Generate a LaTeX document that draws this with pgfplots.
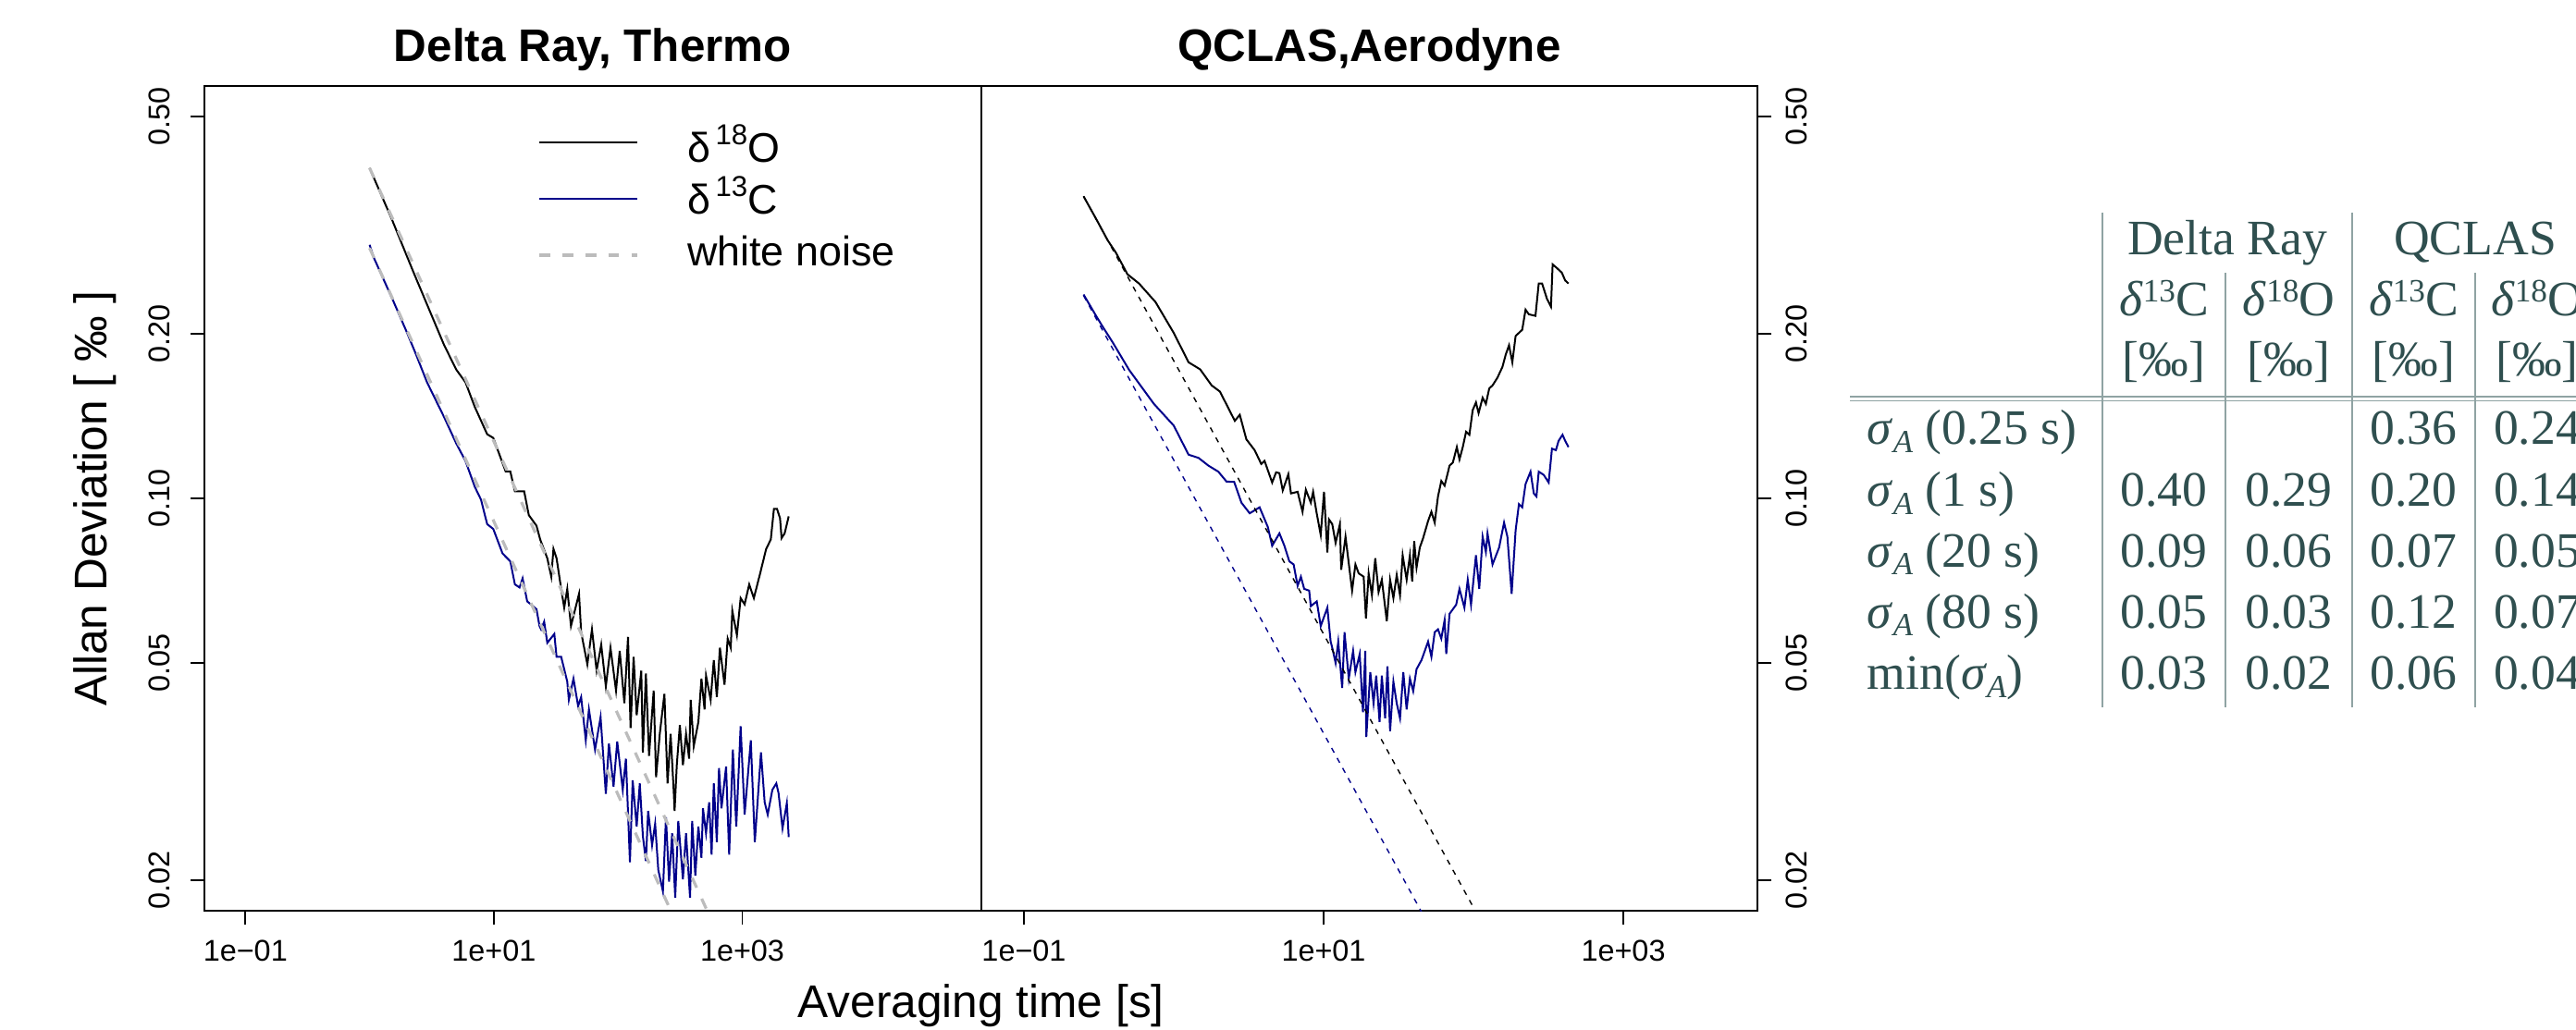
\documentclass[border=0pt]{standalone}
\usepackage{fontspec}
\setmainfont{Liberation Sans}
\newfontfamily\tabfont{Liberation Serif}
\usepackage{pgfplots}
\pgfplotsset{compat=1.18}
\definecolor{rblue}{RGB}{0,0,139}
\definecolor{rgray}{RGB}{188,188,188}
\definecolor{tabtext}{RGB}{47,79,79}
\definecolor{tabline}{RGB}{143,163,163}
\newcommand{\sA}{\textit{σ}\raisebox{-2.1pt}{\fontsize{8.7}{8.7}\selectfont\textit{A}}}
\newcommand{\dC}{\textit{δ}\raisebox{3.9pt}{\fontsize{8.8}{8.8}\selectfont 13}C}
\newcommand{\dO}{\textit{δ}\raisebox{3.9pt}{\fontsize{8.8}{8.8}\selectfont 18}O}
\begin{document}
\begin{tikzpicture}
\path[use as bounding box] (0,0) rectangle (696.25pt,278.5pt);
% ---------------- left panel ----------------
\begin{axis}[at={(55.325pt,32.175pt)}, anchor=south west,
  scale only axis, width=209.84pt, height=223.15pt,
  xmode=log, ymode=log,
  xmin=0.04704, xmax=83560, ymin=0.017585, ymax=0.5687,
  axis line style={black, line width=0.45pt},
  every tick/.style={black, line width=0.45pt},
  tick align=outside, major tick length=3.8pt, minor tick length=0pt,
  xtick={0.1,10,1000},
  xticklabels={\mbox{1e−01},\mbox{1e+01},\mbox{1e+03}},
  ytick={0.02,0.05,0.1,0.2,0.5},
  yticklabels={\mbox{0.02},\mbox{0.05},\mbox{0.10},\mbox{0.20},\mbox{0.50}},
  xtick pos=left, ytick pos=left,
  tick label style={font=\fontsize{8.1}{9}\selectfont},
  xticklabel style={anchor=north, inner sep=0pt, inner ysep=3.9pt},
  yticklabel style={rotate=90, anchor=south, inner sep=0pt, inner ysep=5.3pt},
  title={Delta Ray, Thermo},
  every axis title shift=0pt,
  title style={at={(0.5,1.02935)}, anchor=base, font=\bfseries\fontsize{12.35}{14}\selectfont, inner sep=0pt},
  xlabel={Averaging time [s]},
  xlabel style={at={(1,-0.1285)}, anchor=base, font=\fontsize{12.4}{14}\selectfont, inner sep=0pt},
  ylabel={Allan Deviation [ ‰ ]},
  ylabel style={at={(-0.12546,0.5)}, anchor=base, font=\fontsize{12.4}{14}\selectfont, inner sep=0pt},
  legend cell align=left,
  legend style={at={(0.42938,0.9481)}, anchor=north west, draw=none, fill=none,
    inner sep=0pt, outer sep=0pt, row sep=5pt, column sep=13.1pt,
    font=\fontsize{11.2}{13}\selectfont,
    nodes={inner sep=0pt, text height=9pt, text depth=0pt}},
]
\addplot[black, line width=0.5pt,
  legend image code/.code={\draw[black, line width=0.5pt] (0pt,0.75pt) -- (26.5pt,0.75pt);}]
coordinates {(1.0,0.402) (1.502,0.325) (2.243,0.260) (3.969,0.191) (4.985,0.172) (5.918,0.163) (7.024,0.147) (8.84,0.131) (9.90,0.129) (12.45,0.112) (13.57,0.112) (14.78,0.103) (17.55,0.103) (19.12,0.0932) (22.05,0.0891) (23.61,0.0841) (26.94,0.0777) (29.0,0.0719) (30.2,0.0808) (32.0,0.0777) (34.84,0.0683) (36.87,0.0631) (39.01,0.0683) (41.78,0.0584) (48.5,0.0669) (50.45,0.0569) (56.6,0.0497) (61.66,0.0576) (67.2,0.0484) (73.2,0.0540) (79.75,0.0453) (86.9,0.0533) (96.3,0.0445) (103.1,0.0526) (112.4,0.0422) (120.3,0.0558) (126.1,0.0380) (133.4,0.0513) (141.2,0.0401) (153.8,0.0484) (158.4,0.0343) (167.5,0.0478) (177.6,0.0338) (193.5,0.0445) (202.3,0.0309) (216.7,0.0371) (236.1,0.0439) (250.3,0.0301) (264.8,0.0371) (280.2,0.0293) (285.1,0.0268) (297.0,0.0325) (314.4,0.0385) (332.7,0.0325) (352.6,0.0371) (373.3,0.0334) (384.3,0.0428) (406.6,0.0352) (443.1,0.0390) (468.9,0.0468) (496.8,0.0411) (510.6,0.0474) (556.3,0.0428) (589.7,0.0506) (624.0,0.0433) (660.4,0.0533) (719.5,0.0456) (762.7,0.0554) (807.0,0.0533) (831.0,0.0623) (905.2,0.0562) (969.6,0.0657) (1044,0.0640) (1137,0.0696) (1239,0.0657) (1390,0.0728) (1514,0.0788) (1557,0.0808) (1696,0.0841) (1798,0.0957) (1902,0.0957) (2012,0.0920) (2072,0.0846) (2193,0.0863) (2364,0.0927)};
\addlegendentry{δ\hspace{0.12em}\raisebox{0.42em}{\fontsize{7.8}{7.8}\selectfont 18}O}
\addplot[rblue, line width=0.5pt,
  legend image code/.code={\draw[rblue, line width=0.5pt] (0pt,-0.5pt) -- (26.5pt,-0.5pt);}]
coordinates {(1.0,0.291) (1.078,0.276) (1.546,0.230) (2.0,0.201) (2.373,0.183) (2.90,0.163) (3.969,0.141) (4.985,0.126) (5.918,0.117) (7.024,0.105) (7.879,0.0995) (8.84,0.0897) (9.90,0.0879) (11.75,0.0793) (13.57,0.0767) (14.78,0.0696) (16.11,0.0687) (17.04,0.0714) (18.57,0.0648) (22.05,0.0627) (23.32,0.0584) (24.02,0.0576) (25.42,0.0595) (26.94,0.0544) (30.69,0.0565) (31.98,0.0513) (34.84,0.0513) (39.01,0.0462) (40.17,0.0428) (43.77,0.0468) (47.69,0.0417) (50.45,0.0433) (54.97,0.0361) (58.29,0.0411) (65.25,0.0347) (72.33,0.0398) (79.75,0.0288) (84.40,0.0356) (91.95,0.0297) (98.46,0.0359) (109.1,0.0293) (115.7,0.0334) (124.6,0.0216) (131.1,0.0305) (141.2,0.0251) (149.6,0.0301) (158.4,0.0241) (167.5,0.0217) (174.6,0.0268) (187.9,0.0232) (198.9,0.0254) (210.8,0.0209) (229.7,0.0191) (243.0,0.0261) (257.3,0.0199) (272.6,0.0244) (288.5,0.0186) (305.3,0.0257) (332.7,0.0201) (352.6,0.0244) (379.7,0.0186) (395.0,0.0257) (418.6,0.0204) (443.1,0.0251) (468.9,0.0220) (482.6,0.0271) (510.6,0.0244) (541.3,0.0278) (566.0,0.0223) (589.7,0.0301) (624.0,0.0235) (649.3,0.0321) (680.0,0.0271) (740.6,0.0323) (784.1,0.0223) (839.6,0.0347) (894.4,0.0251) (969.6,0.0383) (1044,0.0264) (1171,0.0361) (1261,0.0235) (1414,0.0343) (1514,0.0278) (1602,0.0264) (1746,0.0293) (1879,0.0301) (1958,0.0289) (2108,0.0249) (2284,0.0277) (2364,0.0240)};
\addlegendentry{δ\hspace{0.12em}\raisebox{0.42em}{\fontsize{7.8}{7.8}\selectfont 13}C}
\addplot[rgray, line width=0.8pt, dash pattern=on 2.9pt off 3.3pt,
  legend image code/.code={\draw[rgray, line width=0.8pt, dash pattern=on 2.9pt off 3.3pt] (0pt,-1.75pt) -- (26.5pt,-1.75pt);}]
coordinates {(1,0.402) (600,0.01641)};
\addlegendentry{white noise}
\addplot[rgray, line width=0.8pt, dash pattern=on 2.9pt off 3.3pt, forget plot]
coordinates {(1,0.287) (300,0.01657)};
\end{axis}
% ---------------- right panel ----------------
\begin{axis}[at={(265.1625pt,32.175pt)}, anchor=south west,
  scale only axis, width=209.84pt, height=223.15pt,
  xmode=log, ymode=log,
  xmin=0.05176, xmax=7852, ymin=0.017585, ymax=0.5687,
  axis line style={black, line width=0.45pt},
  every tick/.style={black, line width=0.45pt},
  tick align=outside, major tick length=3.8pt, minor tick length=0pt,
  xtick={0.1,10,1000},
  xticklabels={\mbox{1e−01},\mbox{1e+01},\mbox{1e+03}},
  ytick={0.02,0.05,0.1,0.2,0.5},
  yticklabels={\mbox{0.02},\mbox{0.05},\mbox{0.10},\mbox{0.20},\mbox{0.50}},
  xtick pos=left, ytick pos=right, yticklabel pos=right,
  tick label style={font=\fontsize{8.1}{9}\selectfont},
  xticklabel style={anchor=north, inner sep=0pt, inner ysep=3.9pt},
  yticklabel style={rotate=90, anchor=north, inner sep=0pt, inner ysep=3.7pt},
  title={QCLAS,Aerodyne},
  every axis title shift=0pt,
  title style={at={(0.5,1.02935)}, anchor=base, font=\bfseries\fontsize{12.35}{14}\selectfont, inner sep=0pt},
]
\addplot[black, line width=0.5pt]
coordinates {(0.25,0.357) (0.3031,0.3247) (0.3621,0.2966) (0.411,0.2815) (0.4909,0.2570) (0.5863,0.2472) (0.7556,0.2286) (0.999,0.2008) (1.2553,0.1774) (1.4997,0.1722) (1.791,0.1609) (2.033,0.1568) (2.555,0.1386) (2.757,0.1422) (3.052,0.1282) (3.465,0.1225) (3.835,0.1156) (4.035,0.1171) (4.535,0.1069) (4.819,0.1116) (5.070,0.1112) (5.335,0.1034) (5.816,0.1107) (6.056,0.1021) (6.706,0.1028) (7.234,0.0945) (7.612,0.1037) (8.213,0.0982) (8.511,0.1028) (8.954,0.0945) (9.564,0.0857) (10.06,0.1028) (10.59,0.0796) (10.86,0.0915) (11.42,0.0897) (12.02,0.0829) (12.84,0.0897) (13.10,0.0740) (14.00,0.0851) (15.49,0.0678) (16.30,0.0757) (17.15,0.0729) (18.50,0.0719) (19.17,0.0603) (19.97,0.0729) (21.01,0.0665) (22.11,0.0777) (23.26,0.0674) (24.46,0.0710) (26.40,0.0596) (27.77,0.0710) (29.22,0.0657) (30.74,0.0724) (32.35,0.0665) (33.69,0.0787) (35.81,0.0710) (37.66,0.0787) (39.02,0.0705) (40.22,0.0835) (41.69,0.0747) (43.85,0.0813) (46.14,0.0846) (49.79,0.0909) (52.39,0.0945) (55.11,0.0903) (57.98,0.1008) (61.00,0.1076) (64.18,0.1055) (69.27,0.1148) (72.88,0.1163) (77.44,0.1241) (80.65,0.1178) (84.84,0.1241) (89.27,0.1324) (93.91,0.1307) (98.8,0.1450) (103.9,0.1498) (108.2,0.1432) (115.1,0.1528) (121.0,0.1489) (127.4,0.1589) (134.0,0.1609) (144.6,0.1663) (156.1,0.1740) (164.2,0.1833) (172.7,0.1906) (181.7,0.1774) (191.1,0.1982) (211.5,0.2034) (222.6,0.2214) (234.2,0.2171) (259.2,0.2157) (272.6,0.2472) (286.9,0.2472) (309.6,0.2316) (329.0,0.2242) (337.5,0.2679) (360.6,0.2638) (389.0,0.2587) (409.3,0.2504) (430.6,0.2472)};
\addplot[rblue, line width=0.5pt]
coordinates {(0.25,0.236) (0.3031,0.2157) (0.3354,0.2061) (0.3905,0.1931) (0.5035,0.1718) (0.7367,0.1489) (0.999,0.1359) (1.2553,0.1202) (1.462,0.1186) (1.702,0.1148) (1.983,0.1119) (2.251,0.1073) (2.529,0.1072) (2.828,0.0982) (3.211,0.0939) (3.739,0.0963) (4.246,0.0886) (4.535,0.0819) (5.070,0.0863) (5.472,0.0819) (5.905,0.0767) (6.308,0.0757) (6.706,0.0692) (7.053,0.0719) (7.419,0.0683) (8.007,0.0678) (8.213,0.0635) (9.0,0.0648) (9.564,0.0584) (10.59,0.0631) (11.14,0.0547) (11.42,0.0533) (12.02,0.0500) (12.52,0.0547) (13.30,0.0450) (13.79,0.0569) (14.72,0.0468) (15.73,0.0526) (16.30,0.0481) (17.41,0.0519) (18.31,0.0406) (18.97,0.0526) (19.27,0.0366) (20.48,0.0481) (21.54,0.0422) (22.44,0.0474) (23.62,0.0390) (24.46,0.0474) (25.73,0.0396) (26.67,0.0493) (27.77,0.0375) (29.22,0.0462) (30.74,0.0422) (32.35,0.0396) (34.02,0.0481) (35.81,0.0411) (37.66,0.0468) (39.62,0.0444) (41.69,0.0487) (45.0,0.0506) (47.33,0.0526) (49.79,0.0547) (52.39,0.0513) (55.11,0.0569) (57.98,0.0576) (61.00,0.0554) (64.18,0.0599) (65.82,0.0519) (69.27,0.0615) (76.66,0.0639) (80.65,0.0683) (87.02,0.0631) (91.57,0.0710) (96.3,0.0639) (103.9,0.0787) (109.3,0.0683) (115.1,0.0851) (121.0,0.0798) (124.1,0.0863) (134.0,0.0757) (148.3,0.0813) (160.0,0.0903) (168.4,0.0851) (179.8,0.0669) (191.1,0.0874) (201.1,0.0976) (211.5,0.0963) (222.6,0.1062) (240.2,0.1119) (252.7,0.1021) (263.2,0.1008) (272.6,0.1119) (294.2,0.1104) (317.6,0.1069) (334.1,0.1233) (355.0,0.1225) (369.8,0.1274) (393.0,0.1307) (409.3,0.1274) (430.6,0.1241)};
\addplot[black, line width=0.35pt, dash pattern=on 1.45pt off 1.65pt]
coordinates {(0.25,0.357) (150,0.01457)};
\addplot[rblue, line width=0.35pt, dash pattern=on 1.45pt off 1.65pt]
coordinates {(0.25,0.235) (60,0.01517)};
\end{axis}
% ---------------- table ----------------
\begin{scope}[every node/.style={text=tabtext, font=\tabfont\fontsize{13.4}{16}\selectfont, inner sep=0pt}]
\clip (0,0) rectangle (696.25pt,278.5pt);
\begin{scope}[tabline, line width=0.375pt]
\draw (568.25pt,221.075pt) -- (568.25pt,87.15pt);
\draw (635.75pt,221.075pt) -- (635.75pt,87.15pt);
\draw (601.5pt,204.775pt) -- (601.5pt,87.15pt);
\draw (669pt,204.775pt) -- (669pt,87.15pt);
\draw (500pt,171.25pt) -- (700pt,171.25pt);
\draw (500pt,170.075pt) -- (700pt,170.075pt);
\end{scope}
\node[anchor=base] at (602pt,209.6pt) {Delta Ray};
\node[anchor=base] at (669pt,209.6pt) {QCLAS};
\node[anchor=base] at (584.875pt,193pt) {\dC};
\node[anchor=base] at (618.625pt,193pt) {\dO};
\node[anchor=base] at (652.375pt,193pt) {\dC};
\node[anchor=base] at (685.75pt,193pt) {\dO};
\node[anchor=base] at (584.875pt,176.75pt) {[‰]};
\node[anchor=base] at (618.625pt,176.75pt) {[‰]};
\node[anchor=base] at (652.375pt,176.75pt) {[‰]};
\node[anchor=base] at (685.75pt,176.75pt) {[‰]};
\node[anchor=base west] at (504.5pt,158.325pt) {\sA\ (0.25 s)};
\node[anchor=base west] at (504.5pt,141.5pt) {\sA\ (1 s)};
\node[anchor=base west] at (504.5pt,125.2pt) {\sA\ (20 s)};
\node[anchor=base west] at (504.5pt,108.6pt) {\sA\ (80 s)};
\node[anchor=base west] at (504.5pt,92.075pt) {min(\sA)};
\node[anchor=base] at (652.375pt,158.325pt) {0.36};
\node[anchor=base] at (685.75pt,158.325pt) {0.24};
\node[anchor=base] at (584.875pt,141.5pt) {0.40};
\node[anchor=base] at (618.625pt,141.5pt) {0.29};
\node[anchor=base] at (652.375pt,141.5pt) {0.20};
\node[anchor=base] at (685.75pt,141.5pt) {0.14};
\node[anchor=base] at (584.875pt,125.2pt) {0.09};
\node[anchor=base] at (618.625pt,125.2pt) {0.06};
\node[anchor=base] at (652.375pt,125.2pt) {0.07};
\node[anchor=base] at (685.75pt,125.2pt) {0.05};
\node[anchor=base] at (584.875pt,108.6pt) {0.05};
\node[anchor=base] at (618.625pt,108.6pt) {0.03};
\node[anchor=base] at (652.375pt,108.6pt) {0.12};
\node[anchor=base] at (685.75pt,108.6pt) {0.07};
\node[anchor=base] at (584.875pt,92.075pt) {0.03};
\node[anchor=base] at (618.625pt,92.075pt) {0.02};
\node[anchor=base] at (652.375pt,92.075pt) {0.06};
\node[anchor=base] at (685.75pt,92.075pt) {0.04};
\end{scope}
\end{tikzpicture}
\end{document}
